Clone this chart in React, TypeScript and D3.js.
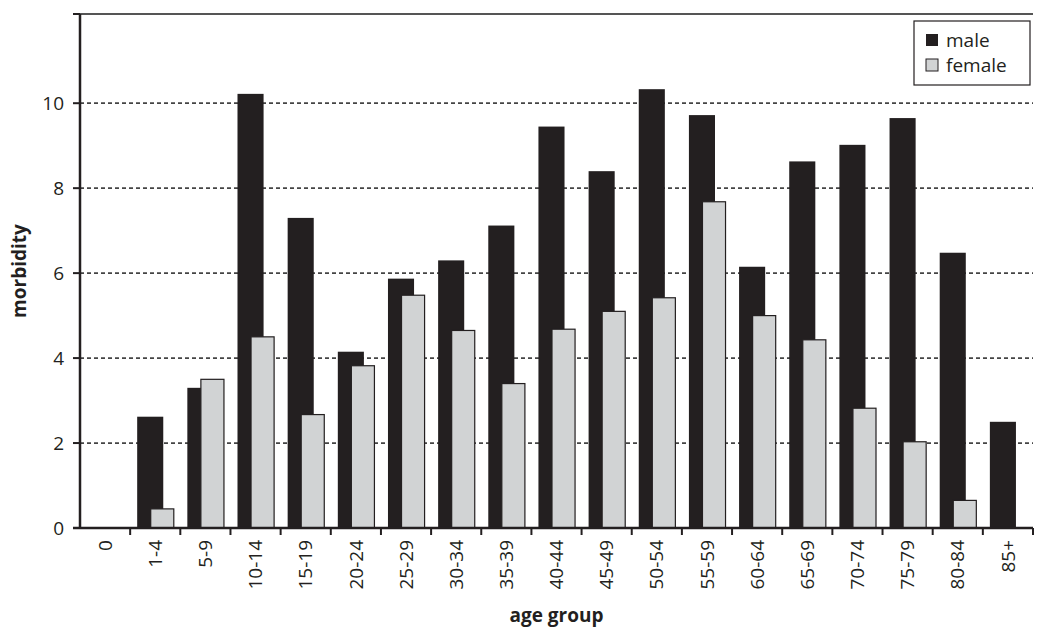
import React from 'react'
import { scaleBand, scaleLinear } from 'd3'

const groups = ['0','1-4','5-9','10-14','15-19','20-24','25-29','30-34','35-39','40-44','45-49','50-54','55-59','60-64','65-69','70-74','75-79','80-84','85+']
const male = [0,2.62,3.3,10.22,7.3,4.15,5.87,6.3,7.12,9.45,8.4,10.33,9.72,6.15,8.63,9.02,9.65,6.48,2.5]
const female = [0,0.45,3.5,4.5,2.67,3.82,5.48,4.65,3.4,4.68,5.1,5.42,7.68,5.0,4.43,2.82,2.03,0.65,0]
const yTicks = [0,2,4,6,8,10]

const font = 'Myriad Pro, "Open Sans", "DejaVu Sans", sans-serif'

export default function App() {
  const left = 80, right = 1033, top = 14, bottom = 528
  const x = scaleBand().domain(groups).range([left, right])
  const y = scaleLinear().domain([0, 12.1]).range([bottom, top])
  const w = x.bandwidth()
  return (
    <svg width={1049} height={630} style={{ position: 'absolute', left: 0, top: 0, background: '#fff' }} fontFamily={font}>
      {yTicks.filter(t => t > 0).map(t => (
        <line key={t} x1={left} x2={right} y1={y(t)} y2={y(t)} stroke="#444" strokeWidth={1.8} strokeDasharray="4,3" />
      ))}
      {groups.map((g, i) => (
        <g key={g}>
          {male[i] > 0 && <rect x={x(g)! + w * 0.14} width={w * 0.52} y={y(male[i])} height={bottom - y(male[i])} fill="#231f20" />}
          {female[i] > 0 && <rect x={x(g)! + w * 0.41} width={w * 0.46} y={y(female[i])} height={bottom - y(female[i])} fill="#d1d3d4" stroke="#231f20" strokeWidth={1.2} />}
        </g>
      ))}
      <line x1={left} x2={right} y1={top} y2={top} stroke="#555" strokeWidth={2} />
      <line x1={left} x2={left} y1={top} y2={bottom} stroke="#231f20" strokeWidth={2.5} />
      <line x1={left - 7} x2={right} y1={bottom} y2={bottom} stroke="#231f20" strokeWidth={2.5} />
      {yTicks.map(t => (
        <g key={t}>
          <line x1={left - 7} x2={left} y1={y(t)} y2={y(t)} stroke="#231f20" strokeWidth={2} />
          <text x={left - 16} y={y(t)} dy="0.35em" textAnchor="end" fontSize={19} fill="#231f20">{t}</text>
        </g>
      ))}
      <line x1={left - 7} x2={left} y1={top} y2={top} stroke="#231f20" strokeWidth={2} />
      {groups.map((g, i) => (
        <g key={g}>
          <line x1={x(g)! + w} x2={x(g)! + w} y1={bottom} y2={bottom + 7} stroke="#231f20" strokeWidth={2} />
          <text transform={`translate(${x(g)! + w / 2},${bottom + 12}) rotate(-90)`} dy="0.35em" textAnchor="end" fontSize={19} fill="#231f20">{g}</text>
        </g>
      ))}
      <text transform={`translate(26,${(top + bottom) / 2}) rotate(-90)`} textAnchor="middle" fontSize={19} fontWeight="bold" fill="#231f20">morbidity</text>
      <text x={(left + right) / 2} y={622} textAnchor="middle" fontSize={19} fontWeight="bold" fill="#231f20">age group</text>
      <g transform="translate(914,21)">
        <rect width={116} height={64} fill="#fff" stroke="#231f20" strokeWidth={1.2} />
        <rect x={12} y={13} width={12} height={12} fill="#231f20" />
        <text x={32} y={19} dy="0.35em" fontSize={19} fill="#231f20">male</text>
        <rect x={12} y={38} width={12} height={12} fill="#d1d3d4" stroke="#231f20" />
        <text x={32} y={44} dy="0.35em" fontSize={19} fill="#231f20">female</text>
      </g>
    </svg>
  )
}
